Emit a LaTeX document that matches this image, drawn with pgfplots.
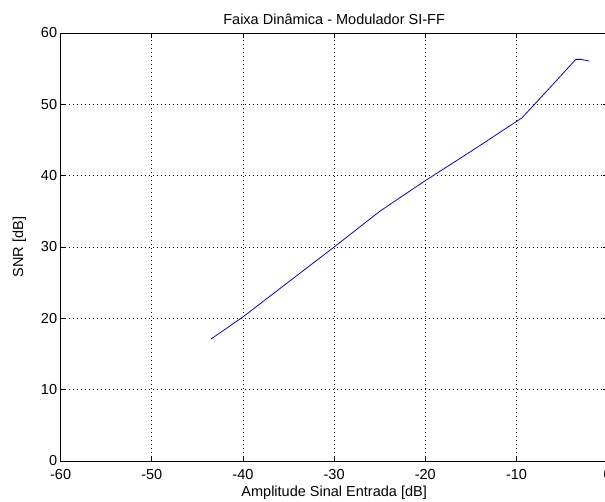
\documentclass[border=0pt]{standalone}
\usepackage{fontspec}
\setmainfont{Liberation Sans}
\usepackage{pgfplots}
\pgfplotsset{compat=1.18}
\begin{document}
\begin{tikzpicture}
\begin{axis}[
  at={(60.6pt,41pt)}, anchor=south west,
  scale only axis, width=547.1pt, height=428pt,
  xmin=-60, xmax=0, ymin=0, ymax=60,
  xtick={-60,-50,...,0}, ytick={0,10,...,60},
  /pgf/number format/assume math mode=true,
  tick label style={font=\fontsize{14.5}{17}\selectfont},
  xticklabel style={yshift=-5pt},
  label style={font=\fontsize{14.5}{17}\selectfont},
  title style={font=\fontsize{14.5}{17}\selectfont, yshift=-1pt},
  title={Faixa Dinâmica - Modulador SI-FF},
  xlabel={Amplitude Sinal Entrada [dB]},
  ylabel={SNR [dB]},
  grid=major,
  major grid style={black, line width=0.6pt, dash pattern=on 1pt off 3pt},
  major tick length=5pt,
  axis line style={line width=0.8pt},
  tick style={line width=0.8pt, black},
  xlabel style={at={(axis description cs:0.5,0)}, anchor=center, yshift=-32pt},
  ylabel style={yshift=8pt},
]
\addplot[blue, line width=0.8pt] coordinates {
  (-43.5,17.1) (-40,20.2) (-35,25.1) (-30,30.0) (-25,35.0) (-23.5,36.3)
  (-20,39.3) (-15,43.4) (-10,47.6) (-9.4,48.1) (-6,52.8) (-3.5,56.3)
  (-2.9,56.3) (-2.0,56.05)
};
\end{axis}
\pgfresetboundingbox
\path (0,0) rectangle (605pt,502pt);
\end{tikzpicture}
\end{document}
